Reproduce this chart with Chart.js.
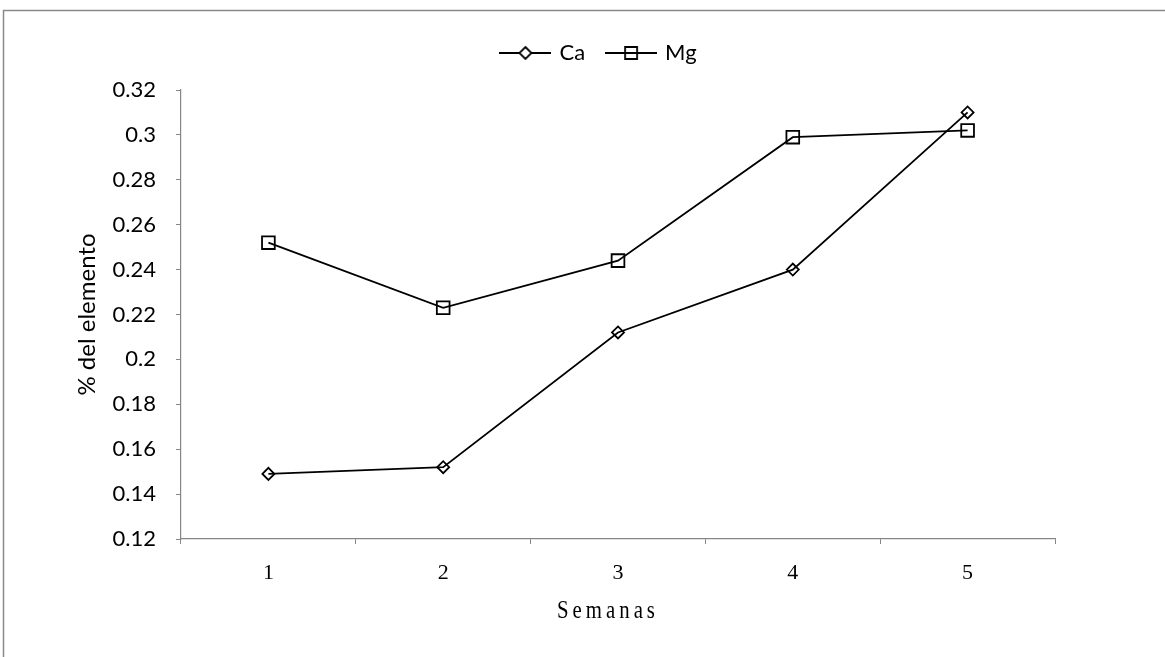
<!DOCTYPE html>
<html>
<head>
<meta charset="utf-8">
<script src="https://cdn.jsdelivr.net/npm/chart.js@4/dist/chart.umd.min.js"></script>
<style>
  html, body { margin: 0; padding: 0; background: #ffffff; overflow: hidden; }
  #wrap { width: 1165px; height: 657px; position: relative; }
</style>
</head>
<body>
<div id="wrap"><canvas id="c" width="1165" height="657"></canvas></div>
<script>
const categories = ['1', '2', '3', '4', '5'];
const caValues = [0.149, 0.152, 0.212, 0.240, 0.310];
const mgValues = [0.252, 0.223, 0.244, 0.299, 0.302];
const seriesNames = ['Ca', 'Mg'];
const yMin = 0.12, yMax = 0.32, yStep = 0.02;
const xTitle = 'Semanas';
const yTitle = '% del elemento';

const AXIS = '#868686';
const LEGEND_SHIFT = 72;

function legendImage(kind) {
  const c = document.createElement('canvas');
  c.width = 52; c.height = 18;
  const g = c.getContext('2d');
  g.strokeStyle = '#000'; g.lineWidth = 1.8;
  g.beginPath(); g.moveTo(0, 9); g.lineTo(52, 9); g.stroke();
  g.beginPath();
  if (kind === 'diamond') {
    g.moveTo(26, 3); g.lineTo(32, 9); g.lineTo(26, 15); g.lineTo(20, 9); g.closePath();
    g.fillStyle = '#fff'; g.fill();
  } else {
    g.rect(20, 3, 12, 12);
  }
  g.stroke();
  return c;
}
const legendImgs = [legendImage('diamond'), legendImage('square')];

const framePlugin = {
  id: 'frame',
  beforeDraw(chart) {
    const ctx = chart.ctx;
    ctx.save();
    ctx.fillStyle = '#fff';
    ctx.fillRect(0, 0, chart.width, chart.height);
    ctx.strokeStyle = '#8a8a8a';
    ctx.lineWidth = 1.5;
    ctx.strokeRect(3.5, 10.5, 1300, 800);
    ctx.restore();
  }
};

const tweaks = {
  id: 'tweaks',
  beforeInit(chart) {
    const lg = chart.legend;
    const origFit = lg.fit;
    lg.fit = function () {
      origFit.call(lg);
      this.height += 16;
    };
    const origDraw = lg.draw;
    lg.draw = function (area) {
      const ctx = this.ctx;
      ctx.save();
      ctx.translate(LEGEND_SHIFT, 0);
      origDraw.call(this, area);
      ctx.restore();
    };
  },
  afterLayout(chart) {
    const s = chart.scales.x;
    if (s && !s._lsWrapped) {
      const o = s.drawTitle;
      s.drawTitle = function () {
        const ctx = this.ctx;
        const cx = (this.left + this.right) / 2;
        ctx.save();
        ctx.translate(608, 0);
        ctx.scale(0.8, 1);
        ctx.translate(-cx, 0);
        ctx.letterSpacing = '5px';
        o.call(this);
        ctx.restore();
      };
      s._lsWrapped = true;
    }
  }
};

new Chart(document.getElementById('c'), {
  type: 'line',
  data: {
    labels: categories,
    datasets: [
      {
        label: seriesNames[0], data: caValues,
        borderColor: '#000', borderWidth: 1.8,
        pointStyle: 'rectRot', pointRadius: 6, pointHoverRadius: 6,
        pointBorderColor: '#000', pointBackgroundColor: 'rgba(0,0,0,0)', pointBorderWidth: 1.8,
        tension: 0, fill: false
      },
      {
        label: seriesNames[1], data: mgValues,
        borderColor: '#000', borderWidth: 1.8,
        pointStyle: 'rect', pointRadius: 9, pointHoverRadius: 9,
        pointBorderColor: '#000', pointBackgroundColor: 'rgba(0,0,0,0)', pointBorderWidth: 1.8,
        tension: 0, fill: false
      }
    ]
  },
  options: {
    responsive: false,
    animation: false,
    layout: { padding: { left: 0, right: 110, top: 19, bottom: 0 } },
    plugins: {
      tooltip: { enabled: false },
      legend: {
        display: true,
        position: 'top',
        labels: {
          usePointStyle: true,
          pointStyleWidth: 46,
          padding: 23,
          color: '#000',
          font: { family: 'Lato', size: 22 },
          generateLabels(chart) {
            const items = Chart.defaults.plugins.legend.labels.generateLabels(chart);
            items.forEach((it, i) => { it.pointStyle = legendImgs[i]; });
            return items;
          }
        }
      }
    },
    scales: {
      x: {
        type: 'category',
        offset: true,
        afterFit(scale) { scale.height = 118; },
        grid: { offset: true, drawOnChartArea: false, drawTicks: true, tickLength: 5, color: AXIS },
        border: { color: AXIS, width: 1.2 },
        ticks: { color: '#000', padding: 16, font: { family: 'Liberation Serif', size: 22 } },
        title: {
          display: true, text: xTitle, color: '#000',
          font: { family: 'Liberation Serif', size: 26 },
          padding: { top: 0, bottom: 30 }
        }
      },
      y: {
        min: yMin, max: yMax,
        afterFit(scale) { scale.width = 181; },
        grid: { drawOnChartArea: false, drawTicks: true, tickLength: 5, color: AXIS },
        border: { color: AXIS, width: 1.2 },
        ticks: {
          stepSize: yStep, color: '#000', padding: 20,
          font: { family: 'Lato', size: 22 },
          callback(v) { return String(Number(v.toFixed(2))); }
        },
        title: {
          display: true, text: yTitle, color: '#000',
          font: { family: 'Lato', size: 24 },
          padding: { top: 73, bottom: 0 }
        }
      }
    }
  },
  plugins: [framePlugin, tweaks]
});
</script>
</body>
</html>
